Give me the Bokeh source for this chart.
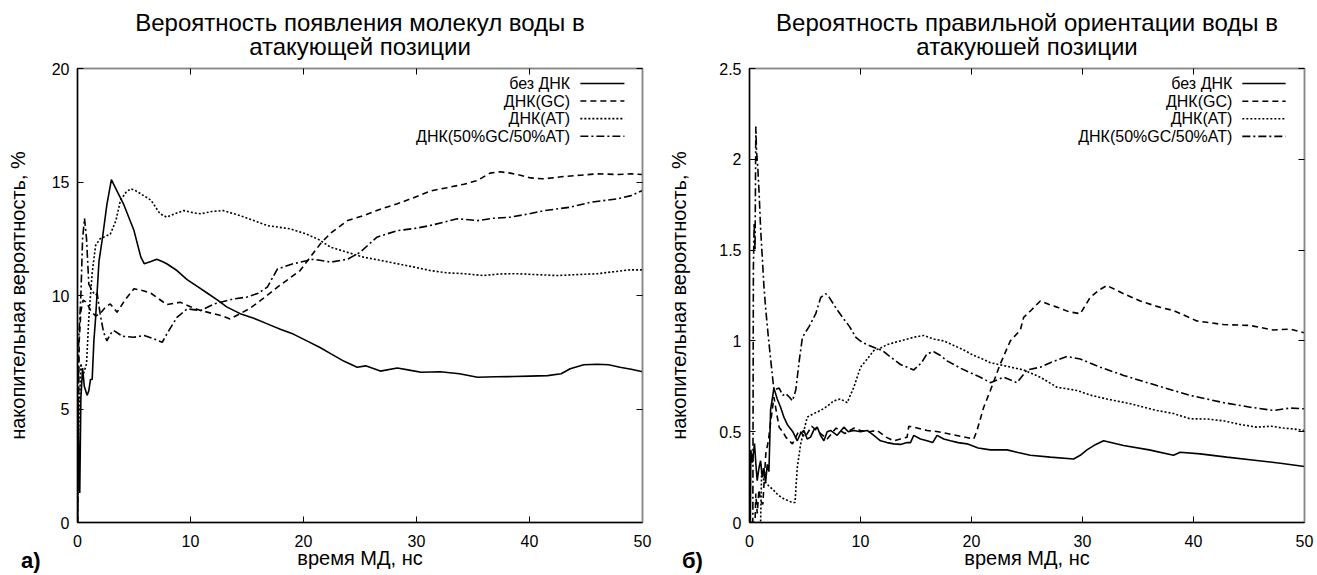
from bokeh.plotting import figure
from bokeh.models import Range1d, LinearAxis, FixedTicker, Title, Div
from bokeh.layouts import row
from bokeh.embed import file_html
from bokeh.resources import INLINE
from bokeh.core.properties import value

FONT = "Liberation Sans"

# ---------------- data: panel a ----------------
series_names = ["без ДНК", "ДНК(GC)", "ДНК(AT)", "ДНК(50%GC/50%AT)"]

a_nodna_t = [0, 0.05, 0.12, 0.2, 0.3, 0.45, 0.6, 0.85, 1.0, 1.15, 1.3, 1.45, 1.6, 1.9, 2.2, 2.6, 3.0, 3.4,
             4.1, 5.0, 5.6, 5.9, 6.5, 7.0, 7.5, 7.9, 8.8, 9.7, 10.6, 11.5, 12.4, 13.2, 14.4, 15.6, 16.8,
             18.0, 19.1, 20.3, 21.5, 22.4, 23.6, 24.75, 25.5, 26.8, 28.3, 29.5, 30.4, 32.1, 33.8, 35.4,
             37.0, 38.6, 40.0, 41.6, 42.8, 43.6, 44.8, 46.0, 47.0, 48.0, 49.0, 50.0]
a_nodna_p = [0, 5.0, 3.0, 1.3, 5.5, 6.8, 6.0, 5.6, 5.8, 6.3, 6.3, 8.0, 9.0, 11.5, 12.5, 14.0, 15.1, 14.7,
             14.0, 12.86, 11.7, 11.4, 11.5, 11.6, 11.5, 11.4, 11.1, 10.7, 10.4, 10.1, 9.8, 9.5, 9.2, 9.0, 8.75,
             8.5, 8.3, 8.0, 7.7, 7.44, 7.1, 6.84, 6.9, 6.67, 6.81, 6.7, 6.62, 6.64, 6.55, 6.4,
             6.42, 6.43, 6.45, 6.47, 6.55, 6.77, 6.95, 6.97, 6.95, 6.84, 6.75, 6.64]

a_gc_t = [0, 0.05, 0.15, 0.3, 0.5, 0.8, 1.2, 1.6, 2.0, 2.5, 2.9, 3.5, 4.2, 5.0, 5.9, 6.5, 7.2, 7.9, 9.1,
          10.0, 10.9, 12.0, 12.7, 13.5, 14.4, 15.3, 16.2, 17.7, 19.7, 21.5, 22.4, 23.9, 25.3, 26.8, 28.3,
          29.7, 31.2, 32.7, 34.2, 35.4, 36.5, 37.4, 38.3, 39.2, 40.1, 41.2, 42.0, 43.0, 44.5, 46.0, 47.8,
          49.0, 50.0]
a_gc_p = [0, 3.0, 8.0, 9.3, 9.8, 9.7, 9.3, 9.1, 9.2, 9.5, 9.63, 9.26, 9.8, 10.3, 10.2, 10.1, 9.85, 9.6, 9.7,
          9.5, 9.34, 9.2, 9.12, 8.97, 9.2, 9.45, 9.78, 10.37, 11.1, 12.28, 12.75, 13.3, 13.52, 13.8, 14.04,
          14.3, 14.6, 14.75, 14.9, 15.07, 15.39, 15.45, 15.39, 15.3, 15.18, 15.14, 15.18, 15.24, 15.3, 15.36,
          15.33, 15.36, 15.33]

a_at_t = [0, 0.1, 0.3, 0.5, 0.8, 1.0, 1.3, 1.6, 2.0, 2.3, 2.9, 3.4, 3.8, 4.3, 4.7, 5.2, 5.6, 6.5, 7.3, 7.9,
          8.6, 9.4, 10.2, 10.9, 11.9, 12.9, 14.4, 15.6, 16.8, 18.8, 20.3, 21.4, 22.4, 23.9, 25.3, 26.8, 28.3,
          29.8, 31.2, 32.7, 34.2, 35.9, 37.4, 38.9, 40.6, 42.4, 44.2, 46.0, 47.5, 48.9, 50.0]
a_at_p = [0, 4.0, 7.0, 6.5, 7.0, 9.0, 11.0, 12.2, 12.5, 12.57, 12.7, 13.3, 14.2, 14.55, 14.7, 14.6, 14.48,
          14.2, 13.6, 13.45, 13.6, 13.74, 13.65, 13.6, 13.7, 13.74, 13.52, 13.3, 13.08, 12.94, 12.7, 12.45,
          12.13, 11.9, 11.69, 11.55, 11.4, 11.25, 11.1, 11.0, 10.96, 10.88, 10.95, 10.96, 10.92, 10.88, 10.92,
          10.96, 11.05, 11.13, 11.13]

a_mix_t = [0, 0.1, 0.3, 0.45, 0.62, 0.8, 1.0, 1.3, 1.6, 1.74, 2.0, 2.3, 2.6, 2.9, 3.2, 4.0, 4.97, 5.9, 6.7,
           7.5, 7.9, 8.8, 9.7, 10.9, 12.1, 13.8, 15.0, 16.0, 16.8, 17.7, 19.1, 20.9, 22.4, 23.9, 25.0, 26.5,
           28.3, 29.8, 31.2, 33.6, 35.4, 36.8, 38.3, 40.0, 41.3, 43.6, 45.4, 47.8, 49.0, 50.0]
a_mix_p = [0, 8.0, 10.0, 12.5, 13.4, 12.5, 10.5, 10.2, 10.0, 10.1, 9.2, 8.4, 8.0, 8.3, 8.46, 8.2, 8.16,
           8.24, 8.1, 7.94, 8.3, 9.04, 9.41, 9.34, 9.63, 9.85, 9.93, 10.1, 10.37, 11.17, 11.4, 11.6, 11.47,
           11.6, 11.9, 12.57, 12.86, 12.95, 13.08, 13.38, 13.3, 13.4, 13.45, 13.6, 13.74, 13.89, 14.11, 14.26,
           14.4, 14.63]

# ---------------- data: panel b ----------------
b_nodna_t = [0, 0.08, 0.12, 0.25, 0.45, 0.6, 0.69, 0.85, 1.0, 1.15, 1.3, 1.45, 1.6, 1.75, 1.9, 2.2, 2.5,
             2.8, 3.1, 3.4, 3.9, 4.3, 4.6, 4.9, 5.2, 5.5, 5.8, 6.1, 6.4, 6.7, 7.0, 7.3, 7.9, 8.5, 8.9, 9.4,
             10.0, 10.6, 11.2, 11.8, 12.4, 13.0, 13.6, 14.2, 14.5, 14.8, 15.4, 16.0, 16.5, 16.9, 17.5, 18.1,
             18.8, 19.6, 20.6, 21.7, 23.2, 24.2, 25.3, 27.1, 29.2, 29.8, 30.4, 31.2, 31.9, 33.7, 36.0, 38.2,
             38.8, 40.6, 43.0, 45.5, 48.0, 50.0]
b_nodna_p = [0, 0, 0.4, 0.33, 0.435, 0.3, 0.23, 0.3, 0.34, 0.25, 0.3, 0.22, 0.32, 0.28, 0.62, 0.74, 0.68,
             0.635, 0.58, 0.54, 0.5, 0.45, 0.49, 0.507, 0.46, 0.47, 0.51, 0.525, 0.48, 0.45, 0.5, 0.507, 0.48,
             0.525, 0.5, 0.507, 0.5, 0.507, 0.48, 0.45, 0.44, 0.433, 0.43, 0.44, 0.44, 0.48, 0.46, 0.45, 0.44,
             0.48, 0.46, 0.45, 0.44, 0.433, 0.41, 0.40, 0.40, 0.385, 0.37, 0.36, 0.35, 0.37, 0.40, 0.43, 0.45,
             0.424, 0.40, 0.37, 0.387, 0.378, 0.36, 0.343, 0.325, 0.308]

b_gc_t = [0, 0.5, 0.57, 0.7, 0.85, 1.0, 1.2, 1.47, 1.7, 1.92, 2.2, 2.45, 2.67, 3.0, 3.27, 3.87, 4.47, 5.0,
          5.6, 6.2, 7.0, 7.8, 8.6, 9.4, 10.0, 10.8, 11.5, 12.3, 13.0, 13.6, 14.2, 14.35, 14.8, 16.0, 17.0,
          17.8, 19.0, 20.2, 20.5, 21.1, 21.7, 22.6, 23.5, 24.4, 24.7, 25.4, 26.2, 27.0, 27.7, 28.8, 29.8,
          30.7, 31.5, 32.2, 33.7, 35.2, 36.7, 38.2, 40.3, 42.7, 45.1, 47.2, 48.7, 49.8, 50.0]
b_gc_p = [0, 0, 0.16, 0.05, 0.18, 0.12, 0.1, 0.38, 0.45, 0.56, 0.69, 0.6, 0.525, 0.5, 0.47, 0.433, 0.507,
          0.47, 0.53, 0.5, 0.46, 0.52, 0.49, 0.52, 0.507, 0.5, 0.507, 0.47, 0.45, 0.46, 0.47, 0.53, 0.525,
          0.507, 0.5, 0.49, 0.475, 0.46, 0.507, 0.635, 0.727, 0.874, 1.0, 1.06, 1.13, 1.17, 1.22, 1.2, 1.186,
          1.16, 1.15, 1.24, 1.28, 1.305, 1.26, 1.22, 1.19, 1.167, 1.11, 1.09, 1.085, 1.06, 1.065, 1.048, 1.045]

b_at_t = [0, 1.0, 1.1, 1.29, 1.6, 2.2, 2.6, 3.1, 3.5, 3.85, 4.1, 4.3, 4.6, 5.2, 5.8, 6.4, 7.0, 7.6, 8.2,
          8.8, 9.4, 10.0, 10.6, 11.2, 11.8, 12.4, 13.6, 14.8, 15.7, 16.6, 17.5, 18.4, 19.3, 20.2, 21.0, 21.7,
          23.2, 24.7, 26.2, 27.7, 29.5, 30.8, 32.2, 34.3, 36.7, 38.2, 39.7, 41.2, 42.7, 44.2, 45.7, 47.0,
          48.1, 49.0, 50.0]
b_at_p = [0, 0, 0.3, 0.23, 0.21, 0.176, 0.15, 0.13, 0.12, 0.11, 0.11, 0.3, 0.43, 0.58, 0.6, 0.617, 0.64,
          0.67, 0.68, 0.66, 0.745, 0.855, 0.9, 0.947, 0.96, 0.98, 1.0, 1.02, 1.03, 1.01, 1.0, 0.975, 0.95,
          0.92, 0.9, 0.88, 0.86, 0.84, 0.8, 0.745, 0.727, 0.7, 0.68, 0.654, 0.617, 0.6, 0.571, 0.57, 0.56,
          0.54, 0.525, 0.53, 0.52, 0.515, 0.507]

b_mix_t = [0, 0.3, 0.35, 0.42, 0.5, 0.57, 0.63, 0.75, 0.87, 1.0, 1.17, 1.3, 1.47, 1.7, 1.92, 2.2, 2.67, 3.0,
           3.27, 3.6, 3.87, 4.17, 4.5, 4.77, 5.38, 5.97, 6.42, 6.87, 7.18, 7.8, 8.38, 9.0, 9.58, 10.2, 10.78,
           11.4, 11.98, 12.73, 13.6, 14.8, 15.5, 16.0, 16.6, 17.2, 17.8, 19.0, 20.8, 21.7, 22.9, 24.1, 25.0,
           26.2, 27.1, 28.6, 29.8, 31.6, 33.7, 36.7, 39.7, 42.7, 45.1, 47.2, 48.7, 50.0]
b_mix_p = [0, 0, 1.4, 1.65, 1.5, 2.18, 2.05, 1.95, 1.81, 1.62, 1.44, 1.3, 1.17, 1.02, 0.89, 0.73, 0.74, 0.7,
           0.71, 0.69, 0.67, 0.73, 0.9, 1.02, 1.08, 1.15, 1.24, 1.26, 1.24, 1.18, 1.13, 1.08, 1.02, 0.99,
           0.975, 0.96, 0.947, 0.91, 0.87, 0.84, 0.88, 0.93, 0.94, 0.92, 0.89, 0.85, 0.80, 0.77, 0.80, 0.77,
           0.84, 0.855, 0.88, 0.914, 0.90, 0.855, 0.81, 0.754, 0.70, 0.66, 0.635, 0.617, 0.63, 0.626]

x_ticks = [0, 10, 20, 30, 40, 50]
a_y_ticks = [0, 5, 10, 15, 20]
b_y_ticks = [0, 0.5, 1, 1.5, 2, 2.5]
b_y_labels = ["0", "0.5", "1", "1.5", "2", "2.5"]

x_label = "время МД, нс"
y_label = "накопительная вероятность, %"
a_title = ["Вероятность появления молекул воды в", "атакующей позиции"]
b_title = ["Вероятность правильной ориентации воды в", "атакуюшей позиции"]
panel_tags = ["а)", "б)"]

dashes = ["solid", "6 4", "2 2", "8 3 2 3"]


def make_panel(width, border_left, border_right, ymax, yticks, ylabels, titles, series,
               leg_x, leg_y0, leg_dy, ylab_standoff):
    p = figure(width=width, height=574, x_range=Range1d(0, 50), y_range=Range1d(0, ymax),
               output_backend="svg", toolbar_location=None,
               min_border_left=border_left, min_border_right=border_right,
               min_border_top=68, min_border_bottom=52)
    p.background_fill_color = "white"
    p.border_fill_color = "white"
    p.outline_line_color = "#888888"
    p.outline_line_width = 1.5
    p.xgrid.grid_line_color = None
    p.ygrid.grid_line_color = None

    bottom = p.below[0]
    left = p.left[0]
    top = LinearAxis()
    right = LinearAxis()
    p.add_layout(top, "above")
    p.add_layout(right, "right")

    for ax in [bottom, top]:
        ax.ticker = FixedTicker(ticks=x_ticks)
    for ax in [left, right]:
        ax.ticker = FixedTicker(ticks=yticks)
    if ylabels is not None:
        left.major_label_overrides = {t: l for t, l in zip(yticks, ylabels)}
    top.major_label_overrides = {t: "" for t in x_ticks}
    right.major_label_overrides = {t: "" for t in yticks}

    for ax in [bottom, left, top, right]:
        ax.major_tick_in = 6
        ax.major_tick_out = 0
        ax.minor_tick_line_color = None
        ax.major_tick_line_color = "black"
        ax.major_tick_line_width = 1
        ax.axis_line_width = 1.5
        ax.major_label_text_font = FONT
        ax.major_label_text_font_size = "16px"
        ax.major_label_text_color = "black"
    for ax in [top, right]:
        ax.axis_line_color = "#888888"
        ax.major_label_text_font_size = "1px"
        ax.major_label_standoff = 0
    bottom.axis_line_color = "black"
    left.axis_line_color = "black"
    bottom.major_label_standoff = 12
    left.major_label_standoff = 8
    bottom.axis_label = x_label
    left.axis_label = y_label
    for ax in [bottom, left]:
        ax.axis_label_text_font = FONT
        ax.axis_label_text_font_size = "20px"
        ax.axis_label_text_font_style = "normal"
        ax.axis_label_text_color = "black"
    bottom.axis_label_standoff = -3
    left.axis_label_standoff = ylab_standoff

    # two-line title (second line closest to frame)
    p.add_layout(Title(text=titles[1], align="center", text_font=FONT, text_font_size="24px",
                       text_font_style="normal", text_color="black", standoff=18), "above")
    p.add_layout(Title(text=titles[0], align="center", text_font=FONT, text_font_size="24px",
                       text_font_style="normal", text_color="black", standoff=-28), "above")

    for (t, v), dash in zip(series, dashes):
        p.line(t, v, line_color="black", line_width=1.6, line_dash=dash)

    # gnuplot-style legend: text right-aligned, sample to the right
    ys = [leg_y0 - i * leg_dy for i in range(len(series_names))]
    p.text(x=[leg_x] * len(series_names), y=ys, text=series_names, text_align="right",
           text_baseline="middle", text_font=value(FONT), text_font_size="16px", text_color="black")
    for yv, dash in zip(ys, dashes):
        p.line([leg_x + 0.9, leg_x + 4.8], [yv, yv], line_color="black", line_width=1.6, line_dash=dash)
    return p


pa = make_panel(656, 77, 14, 20, a_y_ticks, None, a_title,
                [(a_nodna_t, a_nodna_p), (a_gc_t, a_gc_p), (a_at_t, a_at_p), (a_mix_t, a_mix_p)],
                43.6, 19.34, 0.775, 20)
pb = make_panel(660, 93, 12, 2.5, b_y_ticks, b_y_labels, b_title,
                [(b_nodna_t, b_nodna_p), (b_gc_t, b_gc_p), (b_at_t, b_at_p), (b_mix_t, b_mix_p)],
                43.5, 2.417, 0.097, 26)


def tag_div(text, left_px):
    return Div(text=text, width=30, height=28,
               styles={"position": "absolute", "left": f"{left_px}px", "top": "543px",
                       "font-family": FONT, "font-size": "22px", "font-weight": "bold",
                       "color": "black", "line-height": "26px"})


layout = row(pa, pb, tag_div(panel_tags[0], 16), tag_div(panel_tags[1], 677))
open("out.html", "w").write(file_html(layout, INLINE))
